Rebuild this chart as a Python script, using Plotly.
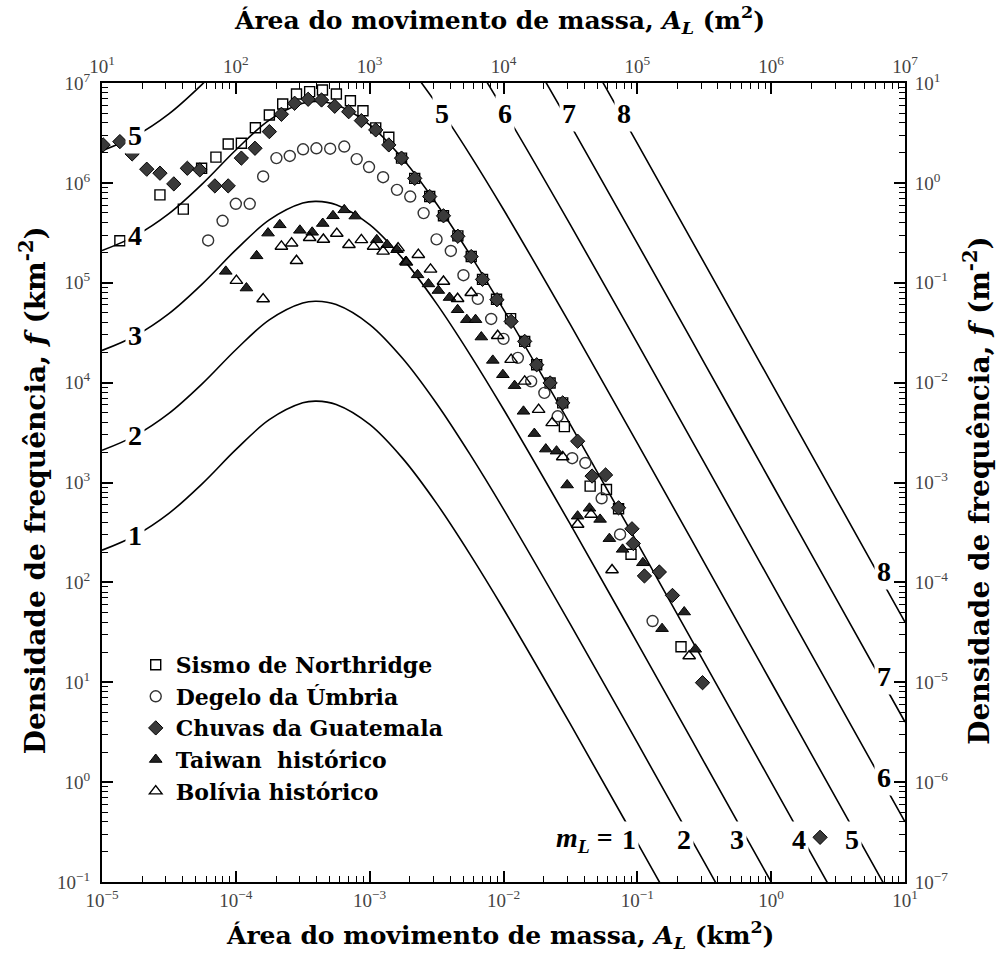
import plotly.graph_objects as go

SERIF = "Liberation Serif, Times New Roman, serif"
WIDE = "DejaVu Serif, Liberation Serif, serif"

# ---- model curves (shape read for m_L = 1; others are decade shifts) ----
curve_area = [1e-5, 1.778e-5, 3.162e-5, 5.623e-5, 1e-4, 1.778e-4, 3.162e-4, 4e-4, 5.623e-4, 1e-3,
              1.778e-3, 3.162e-3, 5.623e-3, 1e-2, 3.162e-2, 0.1, 0.3162, 1.0, 3.162, 10.0]
curve_f_mL1 = [210, 295, 491, 976, 2133, 4256, 6284, 6530, 6048, 3817,
               1724, 618, 191, 54.1, 3.80, 0.248, 0.0158, 1.0e-3, 6.34e-5, 4.0e-6]
mL_values = [1, 2, 3, 4, 5, 6, 7, 8]

# ---- inventories ----
northridge_area = [1.36e-5, 2.71e-5, 4.05e-5, 5.55e-5, 7.10e-5, 8.77e-5, 1.10e-4, 1.40e-4, 1.78e-4, 2.24e-4,
                   2.84e-4, 3.56e-4, 4.44e-4, 5.64e-4, 7.18e-4, 8.91e-4, 1.11e-3, 1.39e-3, 1.73e-3, 2.17e-3,
                   2.81e-3, 3.56e-3, 4.56e-3, 5.74e-3, 6.97e-3, 8.87e-3, 1.13e-2, 1.44e-2, 1.77e-2, 2.23e-2,
                   2.77e-2, 2.85e-2, 4.44e-2, 5.88e-2, 7.24e-2, 8.97e-2, 0.212]
northridge_f = [2.63e5, 7.59e5, 5.46e5, 1.40e6, 1.81e6, 2.45e6, 2.49e6, 3.57e6, 4.79e6, 6.17e6,
                7.76e6, 8.19e6, 8.51e6, 7.76e6, 6.65e6, 5.28e6, 3.55e6, 2.86e6, 1.77e6, 1.11e6,
                7.30e5, 4.68e5, 2.95e5, 1.83e5, 1.08e5, 6.84e4, 4.37e4, 2.59e4, 1.51e4, 9.93e3,
                6.27e3, 3.63e3, 919, 851, 546, 191, 22.7]

umbria_area = [6.21e-5, 7.96e-5, 1.0e-4, 1.27e-4, 1.60e-4, 2.01e-4, 2.53e-4, 3.18e-4, 4.0e-4, 5.07e-4,
               6.46e-4, 8.0e-4, 9.89e-4, 1.26e-3, 1.60e-3, 2.01e-3, 2.53e-3, 3.16e-3, 4.04e-3, 5.02e-3,
               6.43e-3, 8.09e-3, 1.0e-2, 1.28e-2, 1.61e-2, 2.02e-2, 2.54e-2, 3.26e-2, 4.09e-2, 5.41e-2,
               7.43e-2, 0.130]
umbria_f = [2.65e5, 4.17e5, 6.17e5, 6.17e5, 1.16e6, 1.77e6, 1.86e6, 2.17e6, 2.22e6, 2.20e6,
            2.31e6, 1.73e6, 1.44e6, 1.14e6, 8.51e5, 7.30e5, 4.98e5, 2.72e5, 2.08e5, 1.19e5,
            6.89e4, 4.34e4, 2.74e4, 1.77e4, 1.03e4, 7.89e3, 4.60e3, 1.75e3, 1.57e3, 695,
            302, 41]

guatemala_area = [1.02e-5, 1.36e-5, 1.68e-5, 2.16e-5, 2.71e-5, 3.44e-5, 4.34e-5, 5.38e-5, 6.97e-5, 8.77e-5,
                  1.10e-4, 1.39e-4, 1.78e-4, 2.19e-4, 2.75e-4, 3.47e-4, 4.37e-4, 5.48e-4, 6.97e-4, 8.67e-4,
                  1.11e-3, 1.39e-3, 1.73e-3, 2.17e-3, 2.81e-3, 3.56e-3, 4.56e-3, 5.74e-3, 6.97e-3, 8.93e-3,
                  1.14e-2, 1.44e-2, 1.77e-2, 2.23e-2, 2.77e-2, 3.58e-2, 4.59e-2, 5.79e-2, 7.24e-2, 9.12e-2,
                  9.33e-2, 0.113, 0.146, 0.183, 0.307, 2.32]
guatemala_f = [2.40e6, 2.59e6, 1.95e6, 1.37e6, 1.25e6, 9.77e5, 1.40e6, 1.35e6, 9.33e5, 9.33e5,
               1.77e6, 2.22e6, 3.26e6, 4.86e6, 6.27e6, 6.87e6, 6.76e6, 5.85e6, 5.16e6, 4.20e6,
               3.39e6, 2.40e6, 1.77e6, 1.11e6, 7.30e5, 4.68e5, 2.92e5, 1.83e5, 1.08e5, 6.76e4,
               4.10e4, 2.59e4, 1.51e4, 9.93e3, 6.27e3, 2.59e3, 1.16e3, 1.19e3, 558, 344,
               245, 116, 127, 74, 9.9, 0.28]

taiwan_area = [8.41e-5, 1.20e-4, 1.43e-4, 1.74e-4, 2.13e-4, 3.01e-4, 3.72e-4, 4.46e-4, 5.32e-4, 6.46e-4,
               7.80e-4, 1.13e-3, 1.35e-3, 1.60e-3, 1.86e-3, 2.28e-3, 2.75e-3, 3.26e-3, 3.95e-3, 4.54e-3,
               5.32e-3, 6.18e-3, 6.83e-3, 8.32e-3, 9.89e-3, 1.21e-2, 1.41e-2, 1.70e-2, 2.07e-2, 2.49e-2,
               2.99e-2, 3.58e-2, 4.39e-2, 5.27e-2, 6.18e-2, 7.76e-2, 0.110, 0.153, 0.224, 0.271]
taiwan_f = [1.30e5, 8.85e4, 1.86e5, 3.14e5, 3.80e5, 3.35e5, 3.20e5, 3.92e5, 4.68e5, 5.37e5,
            4.65e5, 2.69e5, 2.40e5, 2.14e5, 1.63e5, 1.20e5, 9.73e4, 8.36e4, 7.11e4, 5.37e4,
            4.27e4, 4.27e4, 2.86e4, 1.67e4, 1.20e4, 9.33e3, 5.16e3, 3.09e3, 2.16e3, 2.06e3,
            944, 460, 552, 427, 274, 214, 157, 34.4, 50.5, 21.4]

bolivia_area = [1.01e-4, 1.60e-4, 2.19e-4, 2.61e-4, 2.84e-4, 3.56e-4, 4.51e-4, 5.68e-4, 7.0e-4, 8.67e-4,
                1.07e-3, 1.26e-3, 1.63e-3, 1.88e-3, 2.31e-3, 2.85e-3, 3.56e-3, 4.54e-3, 5.74e-3, 9.05e-3,
                1.14e-2, 1.44e-2, 1.83e-2, 2.31e-2, 2.77e-2, 3.58e-2, 4.51e-2, 6.47e-2, 0.244]
bolivia_f = [1.05e5, 6.87e4, 2.31e5, 2.49e5, 1.66e5, 2.82e5, 2.71e5, 3.11e5, 2.40e5, 2.69e5,
             2.31e5, 2.06e5, 2.22e5, 1.60e5, 1.91e5, 1.36e5, 1.03e5, 6.92e4, 7.94e4, 2.95e4,
             1.70e4, 1.03e4, 5.37e3, 3.95e3, 1.80e3, 380, 479, 133, 18.3]

series_names = ["Sismo de Northridge", "Degelo da Úmbria", "Chuvas da Guatemala",
                "Taiwan  histórico", "Bolívia histórico"]

# axis ticks (exponents)
x_exp = list(range(-5, 2))      # km2
x2_exp = list(range(1, 8))      # m2
y_exp = list(range(-1, 8))      # km-2
y2_exp = list(range(-7, 2))     # m-2


def pow_label(e):
    return "10<sup>" + (str(e) if e >= 0 else "\u2212" + str(-e)) + "</sup>"


def minor_vals(e0, e1):
    return [k * 10.0 ** e for e in range(e0, e1) for k in range(2, 10)]


fig = go.Figure()

for m in mL_values:
    fig.add_trace(go.Scatter(
        x=curve_area, y=[v * 10.0 ** (m - 1) for v in curve_f_mL1],
        mode="lines", line=dict(color="black", width=1.6, shape="spline", smoothing=1.0),
        showlegend=False, hoverinfo="skip"))

marker_styles = [
    dict(symbol="square-open", size=10, color="black", line=dict(width=1.4, color="black")),
    dict(symbol="circle-open", size=11, color="#333", line=dict(width=1.4, color="#333")),
    dict(symbol="diamond", size=11, color="#3a3a3a", line=dict(width=1, color="black")),
    dict(symbol="triangle-up", size=11, color="#222", line=dict(width=1, color="black")),
    dict(symbol="triangle-up-open", size=11, color="black", line=dict(width=1.4, color="black")),
]
data_sets = [(northridge_area, northridge_f), (umbria_area, umbria_f), (guatemala_area, guatemala_f),
             (taiwan_area, taiwan_f), (bolivia_area, bolivia_f)]

for (xs, ys), name, ms in zip(data_sets, series_names, marker_styles):
    fig.add_trace(go.Scatter(x=xs, y=ys, mode="markers", name="<b>" + name + "</b>",
                             marker=ms, hoverinfo="skip"))

# dummy trace to activate the secondary (m2 / m-2) axes
fig.add_trace(go.Scatter(x=[], y=[], xaxis="x2", yaxis="y2", showlegend=False, hoverinfo="skip"))

tickfont = dict(family=SERIF, size=19, color="#444")
common = dict(type="log", showline=True, linecolor="black", linewidth=2, mirror=False,
              ticks="inside", ticklen=11, tickwidth=1.5, tickcolor="black",
              showgrid=False, zeroline=False, tickfont=tickfont, tickmode="array")


def minor(e0, e1):
    return dict(ticks="inside", ticklen=6, tickwidth=1.2, tickcolor="black",
                tickmode="array", tickvals=minor_vals(e0, e1), showgrid=False)


fig.update_layout(
    width=998, height=954,
    margin=dict(l=102, r=93, t=83, b=72),
    plot_bgcolor="white", paper_bgcolor="white",
    font=dict(family=SERIF, color="black"),
    xaxis=dict(**common, range=[-5, 1], tickvals=[10.0 ** e for e in x_exp],
               ticktext=[pow_label(e) for e in x_exp], minor=minor(-5, 1)),
    xaxis2=dict(**common, range=[1, 7], overlaying="x", side="top", anchor="y",
                tickvals=[10.0 ** e for e in x2_exp], ticktext=[pow_label(e) for e in x2_exp],
                minor=minor(1, 7)),
    yaxis=dict(**common, range=[-1, 7], tickvals=[10.0 ** e for e in y_exp],
               ticktext=[pow_label(e) for e in y_exp], minor=minor(-1, 7), ticklabelstandoff=6),
    yaxis2=dict(**common, range=[-7, 1], overlaying="y", side="right", anchor="x",
                tickvals=[10.0 ** e for e in y2_exp], ticktext=[pow_label(e) for e in y2_exp],
                minor=minor(-7, 1), ticklabelstandoff=4),
    legend=dict(x=0.042, y=0.298, xanchor="left", yanchor="top", bgcolor="rgba(0,0,0,0)",
                font=dict(family=WIDE, size=22, color="black"), tracegroupgap=0,
                itemwidth=30),
    showlegend=True,
)

LBL = dict(family=SERIF, size=28, color="black")
annots = []
# left labels m=1..5
for m, ly in zip([1, 2, 3, 4, 5], [2.47, 3.47, 4.47, 5.47, 6.47]):
    annots.append(dict(x=-4.754, y=ly, text="<b>%d</b>" % m))
# top labels m=5..8
for m, lx in zip([5, 6, 7, 8], [-2.46, -1.99, -1.51, -1.10]):
    annots.append(dict(x=lx, y=6.69, text="<b>%d</b>" % m))
# right labels m=6..8
for m, ly in zip([6, 7, 8], [0.05, 1.06, 2.11]):
    annots.append(dict(x=0.843, y=ly, text="<b>%d</b>" % m))
# bottom labels m=1..5
for m, lx in zip([1, 2, 3, 4, 5], [-1.06, -0.65, -0.254, 0.209, 0.604]):
    annots.append(dict(x=lx, y=-0.57, text="<b>%d</b>" % m))
for a in annots:
    a.update(xref="x", yref="y", showarrow=False, font=LBL, bgcolor="white", borderpad=2)
annots.append(dict(x=-1.17, y=-0.57, xref="x", yref="y", xanchor="right", yanchor="middle",
                   showarrow=False, text="<b><i>m<sub>L</sub></i> =</b>", font=LBL))

TF = dict(family=WIDE, size=25, color="black")
TFV = dict(family=WIDE, size=28, color="black")
annots += [
    dict(x=0.4956, y=1.079, xref="paper", yref="paper", xanchor="center", yanchor="middle",
         showarrow=False, font=TF,
         text="<b>Área do movimento de massa, <i>A<sub>L</sub></i> (m<sup>2</sup>)</b>"),
    dict(x=0.4956, y=-0.066, xref="paper", yref="paper", xanchor="center", yanchor="middle",
         showarrow=False, font=TF,
         text="<b>Área do movimento de massa, <i>A<sub>L</sub></i> (km<sup>2</sup>)</b>"),
    dict(x=-0.085, y=0.49, xref="paper", yref="paper", xanchor="center", yanchor="middle",
         showarrow=False, font=TFV, textangle=-90,
         text="<b>Densidade de frequência, <i>f</i> (km<sup>-2</sup>)</b>"),
    dict(x=1.09, y=0.49, xref="paper", yref="paper", xanchor="center", yanchor="middle",
         showarrow=False, font=TFV, textangle=-90,
         text="<b>Densidade de frequência, <i>f</i> (m<sup>-2</sup>)</b>"),
]
fig.update_layout(annotations=annots)

fig.write_html("out.html")
